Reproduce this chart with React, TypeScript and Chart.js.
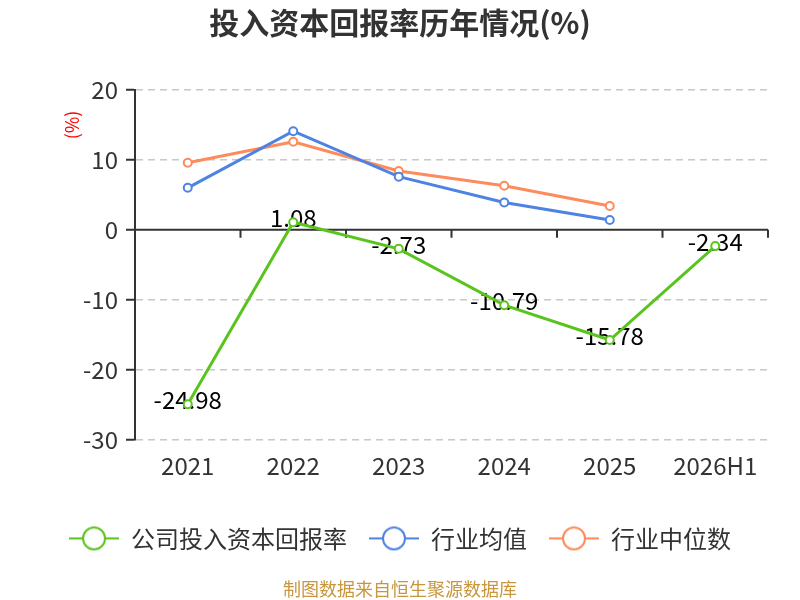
import { useRef, useEffect } from "react";
import { Chart, registerables } from "chart.js";

Chart.register(...registerables);

const years = ["2021", "2022", "2023", "2024", "2025", "2026H1"];
const companyRoic = [-24.98, 1.08, -2.73, -10.79, -15.78, -2.34];
const industryAvg = [6.0, 14.1, 7.6, 3.9, 1.4, null];
const industryMedian = [9.6, 12.6, 8.4, 6.3, 3.4, null];

const GREEN = "#5ac41e";
const BLUE = "#4f83e3";
const ORANGE = "#fd8b5b";
const FONT = "'Noto Sans CJK SC', 'Noto Sans', sans-serif";

function legendIcon(color: string) {
  const c = document.createElement("canvas");
  c.width = 50;
  c.height = 26;
  const ctx = c.getContext("2d")!;
  ctx.strokeStyle = color;
  ctx.lineWidth = 2;
  ctx.beginPath();
  ctx.moveTo(0, 13);
  ctx.lineTo(50, 13);
  ctx.stroke();
  ctx.beginPath();
  ctx.arc(25, 13, 11, 0, Math.PI * 2);
  ctx.fillStyle = "#fff";
  ctx.fill();
  ctx.stroke();
  return c;
}

// zero axis line with category ticks, data labels, y-axis unit
const extras = {
  id: "extras",
  beforeDatasetsDraw(chart: any) {
    const { ctx, chartArea, scales } = chart;
    const y0 = scales.y.getPixelForValue(0);
    const x = scales.x;
    const step = (chartArea.right - chartArea.left) / years.length;
    ctx.save();
    ctx.strokeStyle = "#333";
    ctx.lineWidth = 2;
    ctx.beginPath();
    ctx.moveTo(chartArea.left, y0);
    ctx.lineTo(chartArea.right, y0);
    for (let i = 1; i <= years.length; i++) {
      const px = x.getPixelForValue(i - 1) + step / 2;
      ctx.moveTo(px, y0);
      ctx.lineTo(px, y0 + 8);
    }
    ctx.stroke();

    // y unit
    ctx.translate(chartArea.left - 63, chartArea.top + 35);
    ctx.rotate(-Math.PI / 2);
    ctx.fillStyle = "#ff0000";
    ctx.font = `18px ${FONT}`;
    ctx.textAlign = "center";
    ctx.textBaseline = "middle";
    ctx.fillText("(%)", 0, 0);
    ctx.restore();

    const meta = chart.getDatasetMeta(0);
    ctx.save();
    ctx.fillStyle = "#000";
    ctx.font = `24px ${FONT}`;
    ctx.textAlign = "center";
    ctx.textBaseline = "middle";
    meta.data.forEach((pt: any, i: number) => {
      ctx.fillText(companyRoic[i].toFixed(2), pt.x, pt.y - 4);
    });
    ctx.restore();
  },
};

export default function App() {
  const canvasRef = useRef<HTMLCanvasElement>(null);

  useEffect(() => {
    if (!canvasRef.current) return;
    const line = (label: string, data: (number | null)[], color: string) => ({
      label,
      data,
      borderColor: color,
      backgroundColor: "#fff",
      borderWidth: 3,
      pointRadius: 4,
      pointHoverRadius: 4,
      pointBorderWidth: 2,
      pointBackgroundColor: "#fff",
      pointBorderColor: color,
      pointStyle: "circle",
      tension: 0,
    });

    const chart = new Chart(canvasRef.current, {
      type: "line",
      data: {
        labels: years,
        datasets: [
          line("公司投入资本回报率", companyRoic, GREEN),
          line("行业均值", industryAvg, BLUE),
          line("行业中位数", industryMedian, ORANGE),
        ],
      },
      options: {
        responsive: false,
        animation: false,
        layout: { padding: { left: 32, right: 32, top: 0, bottom: 0 } },
        scales: {
          x: {
            offset: true,
            grid: { display: false, drawTicks: false },
            border: { display: false },
            ticks: { color: "#333", font: { size: 24, family: FONT }, padding: 12 },
            afterFit: (s: any) => {
              s.height = 65;
            },
          },
          y: {
            min: -30,
            max: 20,
            ticks: { stepSize: 10, color: "#333", font: { size: 24, family: FONT }, padding: 8 },
            grid: {
              color: (c: any) => (c.tick && c.tick.value === 0 ? "rgba(0,0,0,0)" : "#c8c8c8"),
              lineWidth: 1.5,
              tickColor: "#333",
              tickLength: 9,
              tickWidth: 2,
            },
            border: { display: true, color: "#333", width: 2, dash: [7, 5] },
            afterFit: (s: any) => {
              s.width = 103;
            },
          },
        },
        plugins: {
          title: {
            display: true,
            text: "投入资本回报率历年情况(%)",
            color: "#333",
            font: { size: 30, weight: "bold", family: FONT },
            padding: { top: 5, bottom: 49 },
          },
          subtitle: {
            display: true,
            position: "bottom",
            text: "制图数据来自恒生聚源数据库",
            color: "#c8963c",
            font: { size: 18, family: FONT },
            padding: { top: 18, bottom: 0 },
          },
          legend: {
            position: "bottom",
            labels: {
              usePointStyle: true,
              pointStyleWidth: 50,
              color: "#333",
              font: { size: 24, family: FONT },
              padding: 22,
              generateLabels: (ch: any) =>
                ch.data.datasets.map((d: any, i: number) => ({
                  text: d.label,
                  pointStyle: legendIcon(d.borderColor),
                  fillStyle: "#fff",
                  strokeStyle: d.borderColor,
                  fontColor: "#333",
                  lineWidth: 0,
                  hidden: false,
                  datasetIndex: i,
                })),
            },
          },
          tooltip: { enabled: false },
        },
      },
      plugins: [extras],
    } as any);

    return () => chart.destroy();
  }, []);

  return (
    <div style={{ position: "absolute", left: 0, top: 0, width: 800, height: 600, background: "#fff" }}>
      <canvas ref={canvasRef} width={800} height={600} />
    </div>
  );
}
